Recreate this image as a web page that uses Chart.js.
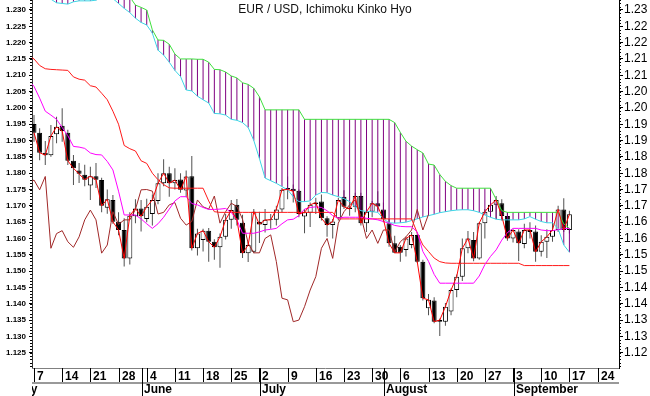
<!DOCTYPE html>
<html><head><meta charset="utf-8">
<script src="https://cdn.jsdelivr.net/npm/chart.js@4.4.1/dist/chart.umd.min.js"></script>
<style>html,body{margin:0;padding:0;background:#fff;overflow:hidden}canvas{display:block}</style>
</head><body>
<canvas id="c" width="650" height="396"></canvas>
<script>
// ---- DATA (trading days, index 0 = 7 May 2018) ----
const openP = [1.1951,1.1924,1.1863,1.1855,1.1919,1.1945,1.1924,1.1838,1.1808,1.1795,
1.1762,1.1791,1.1779,1.1694,1.1718,1.1651,1.1626,1.1539,1.1668,1.1692,
1.1660,1.1675,1.1715,1.1769,1.1800,1.1769,1.1781,1.1747,1.1791,1.1570,
1.1595,1.1624,1.1590,1.1573,1.1605,1.1657,1.1703,1.1648,1.1555,1.1559,
1.1651,1.1641,1.1660,1.1657,1.1689,1.1755,1.1752,1.1746,1.1667,1.1679,
1.1705,1.1713,1.1662,1.1641,1.1662,1.1728,1.1695,1.1697,1.1730,1.1647,
1.1682,1.1708,1.1689,1.1647,1.1585,1.1575,1.1565,1.1580,1.1611,1.1529,
1.1386,1.1410,1.1345,1.1345,1.1376,1.1442,1.1483,1.1570,1.1595,1.1539,
1.1647,1.1682,1.1703,1.1708,1.1669,1.1600,1.1621,1.1583,1.1620,1.1621,
1.1559,1.1590,1.1605,1.1626,1.1689,1.1626];
const highP = [1.1978,1.1938,1.1899,1.1948,1.1973,1.1999,1.1933,1.1856,1.1831,1.1826,
1.1820,1.1831,1.1786,1.1750,1.1733,1.1680,1.1662,1.1680,1.1720,1.1718,
1.1722,1.1735,1.1800,1.1843,1.1820,1.1815,1.1800,1.1808,1.1853,1.1630,
1.1630,1.1632,1.1598,1.1615,1.1675,1.1718,1.1721,1.1673,1.1590,1.1690,
1.1682,1.1690,1.1675,1.1700,1.1755,1.1790,1.1765,1.1750,1.1690,1.1710,
1.1725,1.1735,1.1668,1.1660,1.1725,1.1748,1.1715,1.1740,1.1740,1.1690,
1.1715,1.1745,1.1710,1.1660,1.1608,1.1580,1.1605,1.1620,1.1620,1.1535,
1.1430,1.1420,1.1355,1.1402,1.1447,1.1490,1.1600,1.1623,1.1620,1.1650,
1.1690,1.1725,1.1730,1.1720,1.1680,1.1628,1.1628,1.1645,1.1650,1.1640,
1.1610,1.1628,1.1650,1.1700,1.1723,1.1685];
const lowP = [1.1896,1.1840,1.1825,1.1850,1.1892,1.1896,1.1825,1.1764,1.1770,1.1760,
1.1718,1.1755,1.1680,1.1676,1.1645,1.1610,1.1514,1.1520,1.1647,1.1621,
1.1650,1.1640,1.1705,1.1760,1.1728,1.1750,1.1740,1.1727,1.1563,1.1548,
1.1560,1.1529,1.1535,1.1510,1.1597,1.1630,1.1640,1.1540,1.1528,1.1555,
1.1586,1.1618,1.1630,1.1640,1.1680,1.1720,1.1710,1.1665,1.1616,1.1635,
1.1675,1.1655,1.1605,1.1600,1.1655,1.1690,1.1670,1.1680,1.1640,1.1620,
1.1665,1.1685,1.1650,1.1575,1.1555,1.1529,1.1545,1.1570,1.1525,1.1410,
1.1365,1.1340,1.1301,1.1333,1.1365,1.1420,1.1470,1.1555,1.1530,1.1535,
1.1600,1.1670,1.1660,1.1655,1.1593,1.1588,1.1531,1.1570,1.1600,1.1529,
1.1545,1.1540,1.1590,1.1620,1.1620,1.1615];
const closeP = [1.1924,1.1863,1.1855,1.1914,1.1942,1.1929,1.1838,1.1815,1.1798,1.1780,
1.1791,1.1780,1.1700,1.1720,1.1651,1.1626,1.1539,1.1670,1.1692,1.1668,
1.1697,1.1718,1.1769,1.1800,1.1769,1.1779,1.1749,1.1790,1.1570,1.1615,
1.1624,1.1590,1.1573,1.1605,1.1657,1.1687,1.1657,1.1555,1.1580,1.1682,
1.1643,1.1657,1.1657,1.1689,1.1749,1.1750,1.1745,1.1675,1.1680,1.1703,
1.1710,1.1662,1.1641,1.1652,1.1718,1.1697,1.1690,1.1730,1.1647,1.1682,
1.1708,1.1698,1.1659,1.1585,1.1556,1.1556,1.1600,1.1611,1.1529,1.1417,
1.1412,1.1345,1.1350,1.1391,1.1442,1.1483,1.1570,1.1600,1.1539,1.1647,
1.1682,1.1703,1.1718,1.1669,1.1600,1.1626,1.1585,1.1626,1.1626,1.1559,
1.1590,1.1605,1.1626,1.1689,1.1626,1.1674];
// indicator lines, first value sits at index -1
const kijun = [1.2160,1.2150,1.2130,1.2120,1.2118,1.2117,1.2116,1.2115,1.2095,1.2088,1.2085,
1.2068,1.2064,1.2045,1.2025,1.1990,1.1950,1.1885,1.1875,1.1868,1.1838,
1.1830,1.1800,1.1780,1.1765,1.1755,1.1754,1.1754,1.1754,1.1754,1.1754,
1.1754,1.1715,1.1682,1.1680,1.1680,1.1680,1.1680,1.1680,1.1680,1.1680,
1.1680,1.1680,1.1680,1.1680,1.1680,1.1680,1.1680,1.1680,1.1680,1.1680,
1.1680,1.1680,1.1680,1.1680,1.1660,1.1660,1.1660,1.1660,1.1660,1.1660,
1.1660,1.1660,1.1660,1.1660,1.1660,1.1660,1.1660,1.1660,1.1617,1.1580,
1.1560,1.1540,1.1529,1.1525,1.1524,1.1524,1.1524,1.1524,1.1524,1.1524,
1.1524,1.1524,1.1524,1.1524,1.1524,1.1524,1.1524,1.1517,1.1517,1.1517,
1.1517,1.1517,1.1517,1.1517,1.1517,1.1517];
const tenkan = [1.2085,1.2066,1.2030,1.1990,1.1978,1.1965,1.1940,1.1915,1.1882,1.1880,1.1876,
1.1862,1.1857,1.1856,1.1836,1.1810,1.1745,1.1672,1.1672,1.1672,1.1660,
1.1645,1.1631,1.1645,1.1665,1.1690,1.1715,1.1728,1.1728,1.1707,1.1703,
1.1695,1.1689,1.1689,1.1690,1.1692,1.1680,1.1657,1.1616,1.1616,1.1616,
1.1620,1.1626,1.1628,1.1631,1.1645,1.1657,1.1659,1.1670,1.1690,1.1695,
1.1697,1.1695,1.1685,1.1670,1.1662,1.1665,1.1665,1.1665,1.1665,1.1662,
1.1660,1.1657,1.1652,1.1647,1.1640,1.1637,1.1636,1.1636,1.1620,1.1560,
1.1530,1.1490,1.1463,1.1463,1.1463,1.1463,1.1463,1.1463,1.1463,1.1485,
1.1520,1.1545,1.1565,1.1595,1.1618,1.1631,1.1631,1.1631,1.1631,1.1631,
1.1626,1.1624,1.1624,1.1627,1.1630,1.1631];
const senkouA = [1.2345,1.2345,1.2342,1.2338,1.2333,1.2322,1.2320,1.2318,1.2325,1.2328,1.2328,
1.2328,1.2330,1.2340,1.2345,1.2335,1.2320,1.2305,1.2292,1.2275,1.2262,
1.2254,1.2229,1.2177,1.2162,1.2140,1.2115,1.2096,1.2055,1.2052,1.2036,
1.2025,1.2015,1.1983,1.1982,1.1978,1.1965,1.1962,1.1955,1.1940,1.1900,
1.1845,1.1785,1.1777,1.1769,1.1759,1.1749,1.1728,1.1713,1.1713,1.1715,
1.1733,1.1741,1.1740,1.1733,1.1728,1.1722,1.1713,1.1697,1.1685,1.1683,
1.1682,1.1680,1.1660,1.1648,1.1647,1.1648,1.1650,1.1655,1.1660,1.1666,
1.1670,1.1674,1.1679,1.1682,1.1685,1.1687,1.1688,1.1688,1.1685,1.1680,
1.1672,1.1665,1.1659,1.1657,1.1657,1.1657,1.1657,1.1660,1.1667,1.1659,
1.1652,1.1648,1.1648,1.1630,1.1580,1.1558];
const senkouB = [1.2400,1.2400,1.2400,1.2400,1.2400,1.2400,1.2400,1.2400,1.2400,1.2400,1.2400,
1.2400,1.2400,1.2400,1.2400,1.2400,1.2400,1.2400,1.2340,1.2315,1.2308,
1.2300,1.2239,1.2208,1.2207,1.2195,1.2165,1.2150,1.2150,1.2150,1.2149,
1.2149,1.2140,1.2118,1.2117,1.2110,1.2098,1.2092,1.2077,1.2072,1.2060,
1.2034,1.1994,1.1994,1.1994,1.1994,1.1994,1.1994,1.1994,1.1965,1.1965,
1.1965,1.1965,1.1965,1.1965,1.1965,1.1965,1.1965,1.1965,1.1965,1.1965,
1.1965,1.1965,1.1965,1.1965,1.1955,1.1925,1.1898,1.1883,1.1872,1.1862,
1.1828,1.1825,1.1796,1.1775,1.1762,1.1754,1.1754,1.1754,1.1754,1.1754,
1.1754,1.1754,1.1720,1.1685,1.1680,1.1680,1.1680,1.1680,1.1680,1.1680,
1.1680,1.1680,1.1680,1.1680,1.1645,1.1631];
// lagging line, first value sits at index -1
const chikou = [1.1769,1.1779,1.1749,1.1790,1.1570,1.1615,1.1624,1.1590,1.1573,1.1605,1.1657,
1.1687,1.1657,1.1555,1.1580,1.1682,1.1643,1.1657,1.1657,1.1689,1.1749,
1.1750,1.1745,1.1675,1.1680,1.1703,1.1710,1.1662,1.1641,1.1652,1.1718,
1.1697,1.1690,1.1730,1.1647,1.1682,1.1708,1.1698,1.1659,1.1585,1.1556,
1.1556,1.1600,1.1611,1.1529,1.1417,1.1412,1.1345,1.1350,1.1391,1.1442,
1.1483,1.1570,1.1600,1.1539,1.1647,1.1682,1.1703,1.1718,1.1669,1.1600,
1.1626,1.1585,1.1626,1.1626,1.1559,1.1590,1.1605,1.1626,1.1689,1.1626,1.1674];
const lineStart = -1;

const weekLabels = ['7','14','21','28','4','11','18','25','2','9','16','23','30','6','13','20','27','3','10','17','24'];
const weekIdx = [0,5,10,15,20,25,30,35,40,45,50,55,60,65,70,75,80,85,90,95,100];
const monthLabels = ['May','June','July','August','September'];
const monthIdx = [-4,19,40,62,85];

const priceTicks = [1.125,1.130,1.135,1.140,1.145,1.150,1.155,1.160,1.165,1.170,1.175,1.180,1.185,1.190,1.195,1.200,1.205,1.210,1.215,1.220,1.225,1.230];
const leftTickLabels = ['1.125','1.130','1.135','1.140','1.145','1.150','1.155','1.160','1.165','1.170','1.175','1.180','1.185','1.190','1.195','1.200','1.205','1.210','1.215','1.220','1.225','1.230'];
const rightTickLabels = ['1.12','1.13','1.13','1.14','1.14','1.15','1.15','1.16','1.16','1.17','1.17','1.18','1.18','1.19','1.19','1.20','1.20','1.21','1.21','1.22','1.22','1.23'];
const titleText = 'EUR / USD, Ichimoku Kinko Hyo';

// ---- CHART ----
const FONT = '"Liberation Sans", Arial, sans-serif';
const yMin = 1.12032, yMax = 1.23306;
const xMin = -0.355, xMax = 103.8;

const pts = (arr, start) => arr.map((v, k) => ({x: k + start, y: v}));
const bull = closeP.map((c, i) => c >= openP[i]);

const lineDs = (label, arr, start, color, order) => ({
  type: 'line', label, data: pts(arr, start), borderColor: color, borderWidth: 1,
  pointRadius: 0, tension: 0, fill: false, order, clip: 0
});

const frame = {
  id: 'frame',
  afterDraw(chart) {
    const {ctx, chartArea: a, scales} = chart;
    const x = scales.x, y = scales.y;
    ctx.save();
    // minor ticks
    ctx.strokeStyle = '#000'; ctx.lineWidth = 1;
    ctx.beginPath();
    for (let k = 1121; k <= 1233; k++) {
      const py = Math.round(y.getPixelForValue(k / 1000)) + 0.5;
      ctx.moveTo(a.left - 2, py); ctx.lineTo(a.left, py);
      ctx.moveTo(a.right, py); ctx.lineTo(a.right + 2, py);
    }
    ctx.stroke();
    // bottom axis line
    ctx.strokeStyle = '#808080';
    ctx.beginPath(); ctx.moveTo(a.left, a.bottom + 0.5); ctx.lineTo(a.right, a.bottom + 0.5); ctx.stroke();
    // date rows
    const rowTop = a.bottom, rowMid = a.bottom + 14, rowBot = chart.height;
    ctx.fillStyle = '#999';
    ctx.fillRect(a.left, rowMid, a.right - a.left, 2);
    ctx.beginPath(); ctx.rect(a.left, rowTop, a.right - a.left, rowBot - rowTop); ctx.clip();
    ctx.font = 'bold 12px ' + FONT;
    ctx.textAlign = 'left'; ctx.textBaseline = 'alphabetic';
    ctx.strokeStyle = '#000'; ctx.fillStyle = '#000';
    weekIdx.forEach((d, i) => {
      const px = Math.round(x.getPixelForValue(d)) + 0.5;
      ctx.beginPath(); ctx.moveTo(px, rowTop); ctx.lineTo(px, rowMid); ctx.stroke();
      ctx.fillText(weekLabels[i], px + 2.5, rowTop + 11.5);
    });
    monthIdx.forEach((d, i) => {
      const px = Math.round(x.getPixelForValue(d)) + 1.5;
      ctx.beginPath(); ctx.moveTo(px, rowTop); ctx.lineTo(px, rowBot); ctx.stroke();
      ctx.fillText(monthLabels[i], px + 1.5, rowBot - 3);
    });
    ctx.restore();
    // title
    ctx.save();
    ctx.font = '12px ' + FONT; ctx.fillStyle = '#111';
    ctx.textAlign = 'center'; ctx.textBaseline = 'alphabetic';
    ctx.fillText(titleText, 325, 13);
    ctx.restore();
  }
};

const yCommon = {
  type: 'linear', min: yMin, max: yMax, bounds: 'data',
  afterBuildTicks(s) { s.ticks = priceTicks.map(v => ({value: v})); }
};

new Chart(document.getElementById('c'), {
  type: 'bar',
  data: {
    datasets: [
      lineDs('Close', closeP, 0, '#ff0000', 1),
      lineDs('Tenkan-sen', tenkan, lineStart, '#ff00ff', 2),
      lineDs('Kijun-sen', kijun, lineStart, '#ff1a1a', 3),
      lineDs('Chikou span', chikou, lineStart, '#a02828', 4),
      lineDs('Senkou span A', senkouA, lineStart, '#3cd6e6', 5),
      lineDs('Senkou span B', senkouB, lineStart, '#3ee03e', 6),
      { type: 'bar', label: 'Cloud', order: 7, grouped: false, clip: 0,
        data: senkouA.map((v, k) => ({x: k + lineStart, y: [v, senkouB[k]]})),
        backgroundColor: '#800080', borderWidth: 0, barThickness: 1, inflateAmount: 0 },
      { type: 'bar', label: 'Body', order: 8, grouped: false, clip: 0,
        data: openP.map((o, i) => ({x: i, y: [o, closeP[i]]})),
        backgroundColor: bull.map(b => b ? '#ffffff' : '#000000'),
        borderColor: '#000000', borderWidth: 1, borderSkipped: false,
        barThickness: 5, inflateAmount: 0 },
      { type: 'bar', label: 'Wick', order: 9, grouped: false, clip: 0,
        data: lowP.map((l, i) => ({x: i, y: [l, highP[i]]})),
        backgroundColor: '#505050', borderWidth: 0, barThickness: 1, inflateAmount: 0 }
    ]
  },
  options: {
    responsive: false, animation: false, events: [],
    layout: { padding: 0 },
    plugins: { legend: { display: false }, tooltip: { enabled: false }, title: { display: false } },
    scales: {
      x: { type: 'linear', min: xMin, max: xMax, bounds: 'data', offset: false,
        grid: { display: false }, ticks: { display: false }, border: { display: false },
        afterFit(s) { s.height = 28; s.paddingLeft = 0; s.paddingRight = 0; } },
      y: Object.assign({}, yCommon, { position: 'left',
        ticks: { autoSkip: false, padding: 3, color: '#000',
          font: { family: FONT, size: 8, weight: 'bold' },
          callback: (v, i) => leftTickLabels[i] },
        grid: { drawOnChartArea: false, drawTicks: true, tickLength: 3, color: '#000' },
        border: { display: true, color: '#333' },
        afterFit(s) { s.width = 32; s.paddingTop = 0; s.paddingBottom = 0; } }),
      y2: Object.assign({}, yCommon, { position: 'right',
        ticks: { autoSkip: false, padding: 1, color: '#000',
          font: { family: FONT, size: 12 },
          callback: (v, i) => rightTickLabels[i] },
        grid: { drawOnChartArea: false, drawTicks: true, tickLength: 4, color: '#000' },
        border: { display: true, color: '#000' },
        afterFit(s) { s.width = 31; s.paddingTop = 0; s.paddingBottom = 0; } })
    }
  },
  plugins: [frame]
});
</script>
</body></html>
